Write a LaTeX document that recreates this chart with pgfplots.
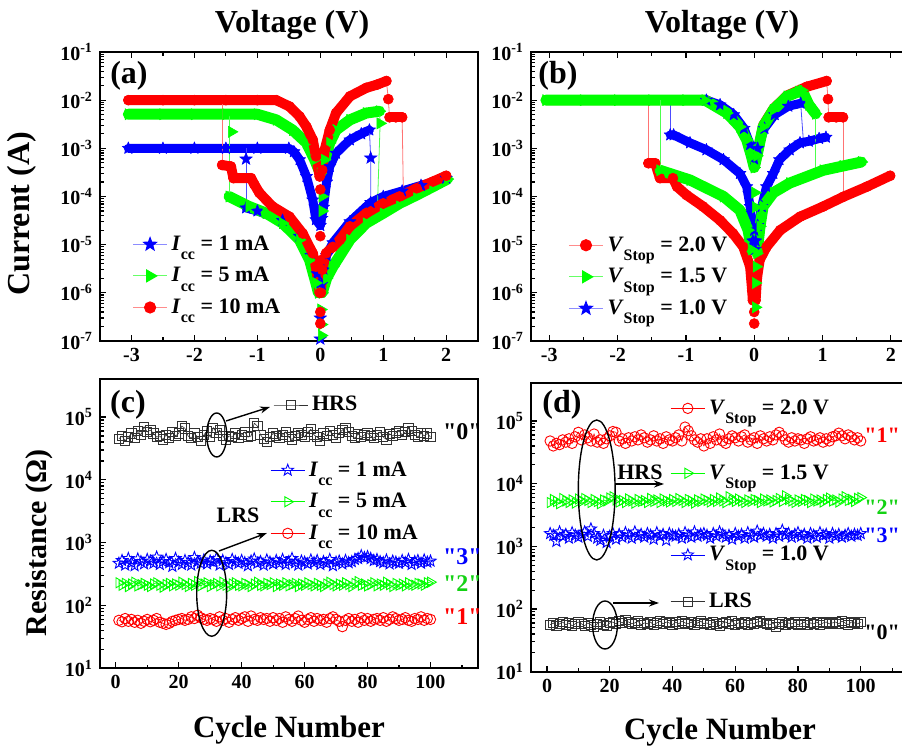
\documentclass[border=0pt]{standalone}
\usepackage{fontspec}
\setmainfont{Liberation Serif}
\usepackage{pgfplots}
\usepackage{pgfplotstable}
\pgfplotsset{compat=1.18}
\usetikzlibrary{arrows.meta}

\definecolor{cR}{RGB}{255,0,0}
\definecolor{cG}{RGB}{0,255,0}
\definecolor{cB}{RGB}{0,0,255}
\definecolor{cK}{RGB}{50,50,50}
\definecolor{qG}{RGB}{20,210,20}

\newcommand{\fs}[1]{\fontsize{#1}{#1}\selectfont\bfseries}
\newcommand{\sub}[1]{\raisebox{-0.95ex}{\fontsize{8}{8}\selectfont #1}}
\newcommand{\q}[1]{\textquotedbl#1\textquotedbl}

% five-pointed star marks, filled and open
\newcommand{\starpath}{%
  \pgfpathmoveto{\pgfpointpolar{90}{\pgfplotmarksize}}%
  \pgfpathlineto{\pgfpointpolar{126}{0.42\pgfplotmarksize}}%
  \pgfpathlineto{\pgfpointpolar{162}{\pgfplotmarksize}}%
  \pgfpathlineto{\pgfpointpolar{198}{0.42\pgfplotmarksize}}%
  \pgfpathlineto{\pgfpointpolar{234}{\pgfplotmarksize}}%
  \pgfpathlineto{\pgfpointpolar{270}{0.42\pgfplotmarksize}}%
  \pgfpathlineto{\pgfpointpolar{306}{\pgfplotmarksize}}%
  \pgfpathlineto{\pgfpointpolar{342}{0.42\pgfplotmarksize}}%
  \pgfpathlineto{\pgfpointpolar{18}{\pgfplotmarksize}}%
  \pgfpathlineto{\pgfpointpolar{54}{0.42\pgfplotmarksize}}%
  \pgfpathclose}
\pgfdeclareplotmark{fstar}{\starpath\pgfusepathqfillstroke}
\pgfdeclareplotmark{ostar}{\starpath\pgfusepathqstroke}

\pgfplotsset{
  base/.style={scale only axis, anchor=south west, axis line style={line width=0.9pt},
    tick style={line width=0.6pt, black}, major tick length=3pt, minor tick length=1.8pt,
    tick align=inside, ticklabel style={font=\fs{10}}, ytick pos=left, legend cell align=left},
  leg/.style={legend style={draw=none, fill=none, font=\fs{11}, anchor=west, at={#1},
    row sep=3pt, inner sep=0pt}},
  geomA/.style={at={(50pt,203.5pt)}, width=188.85pt, height=144.5pt,
    xmin=-3.5, xmax=2.5, ymin=1e-7, ymax=1e-1},
  geomB/.style={at={(265.5pt,203.5pt)}, width=197pt, height=144.5pt,
    xmin=-3.268, xmax=2.5, ymin=1e-7, ymax=1e-1},
  geomC/.style={at={(50pt,39.85pt)}, width=188.85pt, height=144.5pt,
    xmin=-5, xmax=115, ymin=10, ymax=4e5},
  geomD/.style={at={(265.5pt,38.15pt)}, width=188.4pt, height=144.2pt,
    xmin=-5.1, xmax=115, ymin=10, ymax=4e5},
  ivax/.style={xtick={-3,-2,-1,0,1,2}, xticklabels={-3,-2,-1,0,1,2},
    minor xtick={-2.5,-1.5,-0.5,0.5,1.5}, xtick pos=both,
    ytick={1e-7,1e-6,1e-5,1e-4,1e-3,1e-2,1e-1},
    yticklabels={10\textsuperscript{-7},10\textsuperscript{-6},10\textsuperscript{-5},10\textsuperscript{-4},10\textsuperscript{-3},10\textsuperscript{-2},10\textsuperscript{-1}}},
  rax/.style={xtick={0,20,40,60,80,100}, xticklabels={0,20,40,60,80,100},
    minor xtick={10,30,50,70,90,110}, xtick pos=left,
    ytick={1e1,1e2,1e3,1e4,1e5},
    yticklabels={10\textsuperscript{1},10\textsuperscript{2},10\textsuperscript{3},10\textsuperscript{4},10\textsuperscript{5}}},
  bR/.style={cR, line width=5pt, line cap=round, line join=round, mark=*, mark size=2.5pt,
    mark options={line width=0.3pt, fill=cR}, forget plot},
  bG/.style={cG, line width=5.5pt, line cap=round, line join=round, mark=triangle*, mark size=3.2pt,
    mark options={rotate=-90, line width=0.3pt, fill=cG}, forget plot},
  bB/.style={cB, line width=4.5pt, line cap=round, line join=round, mark=fstar, mark size=3.2pt,
    mark options={line width=0.3pt, fill=cB}, forget plot},
  tR/.style={cR!55, line width=0.4pt, mark=none, forget plot},
  tG/.style={cG!70, line width=0.4pt, mark=none, forget plot},
  tB/.style={cB!70, line width=0.4pt, mark=none, forget plot},
  pR/.style={cR, only marks, mark=*, mark size=2.5pt, mark options={fill=cR, line width=0.3pt}, forget plot},
  pG/.style={cG, only marks, mark=triangle*, mark size=3.2pt, mark options={rotate=-90, fill=cG, line width=0.3pt}, forget plot},
  pB/.style={cB, only marks, mark=fstar, mark size=3.2pt, mark options={fill=cB, line width=0.3pt}, forget plot},
  lR/.style={cR!45, line width=0.5pt, mark=*, mark size=2.8pt, mark options={draw=cR, fill=cR}},
  lG/.style={cG!60, line width=0.5pt, mark=triangle*, mark size=3.4pt, mark options={rotate=-90, draw=cG, fill=cG}},
  lB/.style={cB!45, line width=0.5pt, mark=fstar, mark size=3.4pt, mark options={draw=cB, fill=cB}},
  oR/.style={cR, line width=0.3pt, mark=o, mark size=2.6pt, mark options={line width=0.45pt}},
  oG/.style={cG, line width=0.3pt, mark=triangle, mark size=2.9pt, mark options={rotate=-90, line width=0.45pt}},
  oB/.style={cB, line width=0.3pt, mark=ostar, mark size=3pt, mark options={line width=0.45pt}},
  oK/.style={cK, line width=0.3pt, mark=square, mark size=2.3pt, mark options={line width=0.45pt}},
}

% cycling data, panel (c): HRS and LRS for three compliance currents
\pgfplotstableread{
n hrs s1 s5 s10
1 45e3 470 230 58
2 50e3 520 210 55
3 42e3 440 225 62
4 48e3 560 200 56
5 55e3 480 220 60
6 47e3 430 235 54
7 60e3 550 205 58
8 52e3 500 215 52
9 70e3 460 225 56
10 58e3 540 210 60
11 62e3 510 200 55
12 55e3 470 220 58
13 48e3 590 230 62
14 50e3 450 210 54
15 44e3 500 195 52
16 52e3 540 215 50
17 46e3 480 225 52
18 58e3 420 205 56
19 50e3 560 220 58
20 55e3 490 210 60
21 72e3 450 235 62
22 66e3 520 215 58
23 50e3 480 200 60
24 46e3 440 225 66
25 55e3 580 210 62
26 48e3 500 240 70
27 42e3 470 205 64
28 52e3 530 220 60
29 60e3 460 230 58
30 48e3 510 200 62
31 68e3 490 215 60
32 56e3 560 225 56
33 62e3 440 205 66
34 50e3 520 235 58
35 44e3 480 210 62
36 50e3 450 195 54
37 48e3 540 220 60
38 55e3 500 230 64
39 46e3 470 210 58
40 52e3 520 205 62
41 58e3 480 225 66
42 48e3 430 215 56
43 50e3 510 200 68
44 80e3 550 220 60
45 72e3 470 235 58
46 52e3 500 210 64
47 45e3 440 205 60
48 40e3 530 225 62
49 48e3 490 215 56
50 55e3 460 230 64
51 50e3 520 200 58
52 46e3 470 220 62
53 52e3 540 210 54
54 58e3 450 230 66
55 48e3 500 205 60
56 44e3 560 215 56
57 50e3 480 225 62
58 56e3 440 200 68
59 52e3 510 220 58
60 48e3 490 210 54
61 58e3 460 230 60
62 64e3 530 215 64
63 52e3 480 205 56
64 48e3 520 225 62
65 42e3 450 210 58
66 55e3 500 200 60
67 50e3 470 220 54
68 60e3 540 235 62
69 52e3 430 215 66
70 46e3 490 205 60
71 56e3 510 220 56
72 62e3 460 210 46
73 68e3 520 230 58
74 58e3 480 215 62
75 50e3 500 200 56
76 46e3 540 225 60
77 54e3 560 240 54
78 48e3 620 210 64
79 52e3 580 220 58
80 56e3 600 205 62
81 50e3 560 215 56
82 46e3 520 230 60
83 52e3 540 205 62
84 58e3 500 220 58
85 48e3 480 210 64
86 44e3 530 235 56
87 54e3 460 215 60
88 50e3 510 200 66
89 56e3 490 225 62
90 60e3 470 210 58
91 52e3 520 220 60
92 58e3 480 205 64
93 66e3 540 230 58
94 60e3 450 215 56
95 52e3 500 210 62
96 48e3 520 225 60
97 56e3 470 220 66
98 50e3 530 210 58
99 55e3 490 230 62
100 48e3 510 235 60
}\tabC

% cycling data, panel (d): HRS for three stop voltages and LRS
\pgfplotstableread{
n r20 r15 r10 lrs
1 48e3 5000 1600 56
2 40e3 5600 1500 60
3 44e3 5200 1200 54
4 42e3 4800 1700 58
5 50e3 5800 1450 62
6 46e3 5300 1550 56
7 52e3 5000 1350 60
8 44e3 5500 1650 54
9 56e3 4900 1500 58
10 66e3 5700 1400 62
11 50e3 5200 1550 58
12 60e3 5800 1700 54
13 54e3 5400 1450 60
14 48e3 5000 1900 56
15 62e3 5600 1600 52
16 46e3 5200 1350 58
17 50e3 4800 1250 62
18 44e3 5500 1500 56
19 52e3 5300 1150 54
20 58e3 5900 1450 60
21 68e3 6200 1600 62
22 66e3 5500 1300 58
23 48e3 5100 1550 64
24 52e3 5400 1400 60
25 44e3 5000 1650 66
26 54e3 5700 1500 62
27 48e3 5300 1350 58
28 56e3 4900 1700 60
29 50e3 5600 1450 64
30 60e3 5200 1550 56
31 54e3 5400 1400 60
32 46e3 5000 1600 58
33 50e3 5800 1500 62
34 58e3 5200 1300 56
35 48e3 5500 1650 60
36 52e3 5000 1450 64
37 44e3 5700 1550 58
38 56e3 5300 1250 62
39 50e3 5100 1600 60
40 48e3 5600 1500 56
41 54e3 5200 1450 62
42 60e3 5800 1550 58
43 48e3 5400 1350 64
44 80e3 5000 1650 60
45 70e3 5600 1500 58
46 58e3 5300 1400 62
47 50e3 4900 1700 56
48 46e3 5500 1450 60
49 52e3 5200 1550 64
50 40e3 5700 1600 58
51 52e3 5400 1500 60
52 44e3 5100 1350 56
53 56e3 5600 1600 62
54 50e3 5200 1450 58
55 62e3 5900 1700 54
56 48e3 5300 1550 60
57 44e3 5000 1400 62
58 52e3 6200 1500 58
59 58e3 5500 1300 64
60 54e3 5200 1600 56
61 48e3 5700 1450 60
62 56e3 5300 1550 58
63 60e3 5000 1350 62
64 46e3 5500 1650 56
65 50e3 5200 1500 60
66 54e3 5600 1400 58
67 44e3 5400 1750 62
68 58e3 5000 1500 64
69 52e3 5700 1600 60
70 48e3 5300 1450 58
71 56e3 5500 1550 56
72 50e3 5100 1350 60
73 60e3 5400 1600 52
74 66e3 5800 1450 58
75 58e3 5200 1800 62
76 50e3 6400 1500 56
77 46e3 5600 1600 60
78 54e3 5300 1400 58
79 48e3 5000 1550 62
80 52e3 5500 1650 56
81 50e3 5200 1450 58
82 44e3 5600 1550 62
83 52e3 5400 1350 56
84 56e3 5000 1600 60
85 48e3 5700 1500 58
86 50e3 5300 1400 62
87 54e3 5500 1650 56
88 46e3 5100 1500 60
89 52e3 5600 1550 62
90 48e3 5900 1350 58
91 56e3 5300 1600 60
92 58e3 5500 1450 62
93 64e3 5100 1550 58
94 58e3 5700 1400 64
95 52e3 6200 1500 60
96 60e3 5400 1600 56
97 56e3 5600 1450 62
98 50e3 5200 1550 60
99 54e3 5800 1500 58
100 48e3 6000 1600 62
}\tabD

\begin{document}
\begin{tikzpicture}
\useasboundingbox (0,0) rectangle (451pt,374pt);

% ---------------- (a) ----------------
\begin{axis}[ymode=log, base, geomA, ivax, leg={(0.085,0.225)}]
\addlegendimage{lB}\addlegendentry{\textit{I}\sub{cc} = 1 mA}
\addlegendimage{lG}\addlegendentry{\textit{I}\sub{cc} = 5 mA}
\addlegendimage{lR}\addlegendentry{\textit{I}\sub{cc} = 10 mA}
% Icc = 1 mA
\addplot[bB] coordinates {(-3.05,1.0e-3) (-2.5,1.0e-3) (-2,1.0e-3) (-1.5,1.0e-3) (-1,1.0e-3) (-0.5,1.0e-3) (-0.42,8.5e-4) (-0.33,5.8e-4) (-0.22,2.6e-4) (-0.12,8.5e-5) (-0.07,3.3e-5) (0,2.5e-5) (0.05,6e-5) (0.1,2e-4) (0.15,4.2e-4) (0.25,7.9e-4) (0.47,1.5e-3) (0.65,2e-3) (0.78,2.4e-3)};
\addplot[tB] coordinates {(0.78,2.4e-3) (0.8,6.3e-4) (0.8,8e-5)};
\addplot[bB] coordinates {(0.02,1.5e-6) (0.05,3e-6) (0.1,6e-6) (0.2,1.1e-5) (0.47,3e-5) (0.8,7.5e-5) (1.0,1.0e-4) (1.3,1.3e-4) (1.6,1.7e-4) (2.0,2.4e-4)};
\addplot[bB] coordinates {(-0.02,1.5e-6) (-0.05,2.5e-6) (-0.15,6e-6) (-0.33,1.5e-5) (-0.6,3.2e-5) (-1.0,5e-5) (-1.18,5.8e-5)};
\addplot[tB] coordinates {(-1.18,5.8e-5) (-1.18,1e-3)};
\addplot[pB] coordinates {(0.8,6.3e-4) (-1.18,6e-4) (0,1.1e-7) (0,3e-7) (0,6e-5) (0.02,3.5e-5)};
% Icc = 5 mA
\addplot[bG] coordinates {(-3.05,5.1e-3) (-2.5,5.1e-3) (-2,5.1e-3) (-1.5,5.1e-3) (-1.0,5.1e-3) (-0.7,3.9e-3) (-0.44,2.4e-3) (-0.22,1.3e-3) (-0.09,5.8e-4) (0,3e-4) (0.07,5.8e-4) (0.15,1.3e-3) (0.25,2.4e-3) (0.47,3.9e-3) (0.73,5.4e-3) (0.94,5.9e-3)};
\addplot[tG] coordinates {(0.94,5.9e-3) (0.95,3.3e-3) (0.9,3e-5)};
\addplot[bG] coordinates {(0.03,1e-6) (0.1,2e-6) (0.2,3.5e-6) (0.47,1.26e-5) (0.73,2.8e-5) (1.0,4.5e-5) (1.26,7.2e-5) (1.53,1.07e-4) (1.79,1.6e-4) (2.02,2.3e-4)};
\addplot[bG] coordinates {(-0.03,1e-6) (-0.07,1.6e-6) (-0.17,4.8e-6) (-0.33,1.26e-5) (-0.6,2.8e-5) (-0.86,4.5e-5) (-1.13,6.2e-5) (-1.45,1.0e-4)};
\addplot[tG] coordinates {(-1.45,1.0e-4) (-1.45,5.1e-3)};
\addplot[pG] coordinates {(0.95,3.3e-3) (-1.41,2.2e-3) (0.02,1.3e-7) (0.02,2.2e-7) (0.01,4.5e-7) (0.03,5e-5) (0.03,1e-4)};
% Icc = 10 mA
\addplot[bR] coordinates {(-3.05,1e-2) (-2.5,1e-2) (-2,1e-2) (-1.5,1e-2) (-1,1e-2) (-0.7,1e-2) (-0.49,7.4e-3) (-0.33,4.6e-3) (-0.22,2.8e-3) (-0.12,1.5e-3) (-0.07,6.8e-4) (-0.01,2.6e-4) (0.03,3.5e-4) (0.07,9.3e-4) (0.15,2.4e-3) (0.25,5.4e-3) (0.47,1.2e-2) (0.73,1.8e-2) (0.9,2.1e-2) (1.05,2.5e-2)};
\addplot[tR] coordinates {(1.05,2.5e-2) (1.08,1.05e-2) (1.1,4.4e-3)};
\addplot[bR] coordinates {(1.1,4.4e-3) (1.2,4.4e-3) (1.3,4.4e-3)};
\addplot[tR] coordinates {(1.3,4.4e-3) (1.32,1.0e-4)};
\addplot[bR] coordinates {(0.01,1e-6) (0.03,3e-6) (0.09,6.6e-6) (0.2,9e-6) (0.31,1.26e-5) (0.47,2.4e-5) (0.73,4.5e-5) (1.0,7.2e-5) (1.26,1.0e-4) (1.53,1.48e-4) (1.79,2.04e-4) (2.0,2.7e-4)};
\addplot[bR] coordinates {(-0.01,1e-6) (-0.07,3.5e-6) (-0.12,6.6e-6) (-0.28,1.7e-5) (-0.49,3.8e-5) (-0.76,6.2e-5) (-0.97,1.2e-4) (-1.05,1.8e-4) (-1.1,2.4e-4) (-1.38,2.4e-4) (-1.42,4.2e-4) (-1.56,4.5e-4)};
\addplot[tR] coordinates {(-1.56,4.5e-4) (-1.56,1e-2)};
\addplot[pR] coordinates {(1.08,1.05e-2) (0,1.4e-4) (0,1.5e-5) (0,4.7e-6) (0,4e-7) (0,2.3e-7)};
\end{axis}

% ---------------- (b) ----------------
\begin{axis}[ymode=log, base, geomB, ivax, leg={(0.094,0.222)}]
\addlegendimage{lR}\addlegendentry{\textit{V}\sub{Stop} = 2.0 V}
\addlegendimage{lG}\addlegendentry{\textit{V}\sub{Stop} = 1.5 V}
\addlegendimage{lB}\addlegendentry{\textit{V}\sub{Stop} = 1.0 V}
% Vstop = 2.0 V
\addplot[bR, mark=none] coordinates {(-3.05,1e-2) (-2.5,1e-2) (-2,1e-2) (-1.5,1e-2) (-1,1e-2) (-0.7,1e-2) (-0.4,5.6e-3) (-0.21,3e-3) (-0.11,1.6e-3) (-0.04,7e-4) (0,4e-4) (0.04,7e-4) (0.13,3e-3) (0.28,6.6e-3) (0.48,1.25e-2) (0.77,1.9e-2) (1.06,2.5e-2)};
\addplot[tR] coordinates {(1.06,2.5e-2) (1.08,1.05e-2) (1.09,4.4e-3)};
\addplot[bR] coordinates {(1.09,4.4e-3) (1.2,4.4e-3) (1.3,4.4e-3)};
\addplot[tR] coordinates {(1.3,4.4e-3) (1.3,9.8e-5)};
\addplot[bR] coordinates {(0.02,7e-7) (0.04,2e-6) (0.08,4.8e-6) (0.18,9e-6) (0.38,2e-5) (0.67,3.8e-5) (1.01,6.2e-5) (1.3,9.8e-5) (1.65,1.6e-4) (1.99,2.7e-4)};
\addplot[bR] coordinates {(-0.02,7e-7) (-0.03,1.1e-6) (-0.06,3.5e-6) (-0.16,9e-6) (-0.31,1.7e-5) (-0.5,3.2e-5) (-0.75,6.2e-5) (-0.99,1.07e-4) (-1.13,1.6e-4) (-1.19,2.4e-4) (-1.38,2.4e-4) (-1.45,4.9e-4) (-1.55,4.9e-4)};
\addplot[tR] coordinates {(-1.55,4.9e-4) (-1.55,1e-2)};
\addplot[pR] coordinates {(0.77,1.9e-2) (1.06,2.5e-2) (1.08,1.05e-2) (0,2.3e-7) (0,4e-7) (0.01,8e-7)};
% Vstop = 1.0 V
\addplot[bB, mark=none] coordinates {(-3.05,1e-2) (-2,1e-2) (-1,1e-2) (-0.7,1e-2)};
\addplot[bB] coordinates {(-0.7,1e-2) (-0.5,8e-3) (-0.3,5e-3) (-0.15,2.6e-3) (-0.06,1.2e-3) (0,6e-4) (0.05,1e-3) (0.15,2.6e-3) (0.3,5e-3) (0.5,7.5e-3) (0.68,8.6e-3)};
\addplot[tB] coordinates {(0.68,8.6e-3) (0.72,1.4e-3)};
\addplot[bB] coordinates {(0.02,1.2e-5) (0.05,2.5e-5) (0.11,6.2e-5) (0.18,1.6e-4) (0.28,3e-4) (0.37,5.8e-4) (0.52,9.3e-4) (0.67,1.3e-3) (0.8,1.4e-3) (0.95,1.6e-3) (1.05,1.7e-3)};
\addplot[bB] coordinates {(-0.02,1.2e-5) (-0.06,6.2e-5) (-0.11,1.6e-4) (-0.21,3e-4) (-0.45,5.8e-4) (-0.7,9.3e-4) (-0.94,1.3e-3) (-1.18,1.9e-3) (-1.23,1.9e-3)};
\addplot[tB] coordinates {(-1.23,1.9e-3) (-1.23,1e-2)};
\addplot[pB] coordinates {(0,2e-5) (0.01,8e-6)};
% Vstop = 1.5 V
\addplot[bG] coordinates {(-3.05,1e-2) (-2.5,1e-2) (-2,1e-2) (-1.5,1e-2) (-1,1e-2) (-0.72,1e-2) (-0.4,5.4e-3) (-0.21,2.8e-3) (-0.11,1.5e-3) (-0.04,6.8e-4) (0,4e-4) (0.04,7e-4) (0.13,2.8e-3) (0.28,6.3e-3) (0.48,1.2e-2) (0.65,1.5e-2) (0.7,1.6e-2) (0.8,8e-3) (0.9,5.2e-3)};
\addplot[tG] coordinates {(0.9,5.2e-3) (0.9,3.3e-4)};
\addplot[bG] coordinates {(0.04,6.6e-6) (0.085,2.4e-5) (0.13,6.2e-5) (0.28,1.2e-4) (0.52,1.9e-4) (1.01,3.5e-4) (1.3,4.3e-4) (1.57,5.2e-4)};
\addplot[bG] coordinates {(-0.04,7.9e-6) (-0.09,2e-5) (-0.21,5.2e-5) (-0.45,1e-4) (-0.94,2.2e-4) (-1.38,3.5e-4)};
\addplot[tG] coordinates {(-1.38,3.5e-4) (-1.38,1e-2)};
\addplot[pG] coordinates {(0.02,5e-7) (0.02,1.6e-6) (0.03,3.5e-6) (0.02,6e-5) (0.01,1.2e-4)};
\end{axis}

% ---------------- (c) ----------------
\begin{axis}[ymode=log, base, geomC, rax, leg={(0.45,0.576)}]
\addlegendimage{oB}\addlegendentry{\textit{I}\sub{cc} = 1 mA}
\addlegendimage{oG}\addlegendentry{\textit{I}\sub{cc} = 5 mA}
\addlegendimage{oR}\addlegendentry{\textit{I}\sub{cc} = 10 mA}
\addplot[oK, forget plot] table[x=n, y=hrs] {\tabC};
\addplot[oB, forget plot] table[x=n, y=s1] {\tabC};
\addplot[oG, forget plot] table[x=n, y=s5] {\tabC};
\addplot[oR, forget plot] table[x=n, y=s10] {\tabC};
\end{axis}
\begin{axis}[ymode=log, base, geomC, hide axis, leg={(0.458,0.911)}]
\addlegendimage{oK}\addlegendentry{HRS}
\end{axis}

% ---------------- (d) ----------------
\begin{axis}[ymode=log, base, geomD, rax, leg={(0.369,0.913)}]
\addlegendimage{oR}\addlegendentry{\textit{V}\sub{Stop} = 2.0 V}
\addplot[oR, forget plot] table[x=n, y=r20] {\tabD};
\addplot[oG, forget plot] table[x=n, y=r15] {\tabD};
\addplot[oB, forget plot] table[x=n, y=r10] {\tabD};
\addplot[oK, forget plot] table[x=n, y=lrs] {\tabD};
\end{axis}
\begin{axis}[ymode=log, base, geomD, hide axis, leg={(0.369,0.688)}]
\addlegendimage{oG}\addlegendentry{\textit{V}\sub{Stop} = 1.5 V}
\end{axis}
\begin{axis}[ymode=log, base, geomD, hide axis, leg={(0.369,0.405)}]
\addlegendimage{oB}\addlegendentry{\textit{V}\sub{Stop} = 1.0 V}
\end{axis}
\begin{axis}[ymode=log, base, geomD, hide axis, leg={(0.369,0.243)}]
\addlegendimage{oK}\addlegendentry{LRS}
\end{axis}

% ---------------- labels and annotations (pixel frame) ----------------
\begin{scope}[x=0.5pt, y=-0.5pt, shift={(0pt,374pt)}]
\node[font=\fs{16}] at (292,25) {Voltage (V)};
\node[font=\fs{16}] at (722,25) {Voltage (V)};
\node[font=\fs{16}, rotate=90] at (22,214) {Current (A)};
\node[font=\fs{15}, rotate=90] at (39,543) {Resistance (Ω)};
\node[font=\fs{15.5}] at (289,730) {Cycle Number};
\node[font=\fs{15.5}] at (720,732) {Cycle Number};
\node[font=\fs{16}] at (129,76) {(a)};
\node[font=\fs{16}] at (558,76) {(b)};
\node[font=\fs{16}] at (128,405) {(c)};
\node[font=\fs{16}] at (562,405) {(d)};
% (c)
\draw[line width=0.7pt] (216.7,435) ellipse [x radius=5pt, y radius=11pt];
\draw[line width=0.7pt, -{Stealth[length=5pt, width=3.5pt]}] (226,421) -- (270,407);
\node[font=\fs{11}] at (238,515) {LRS};
\draw[line width=0.7pt] (211.7,593.3) ellipse [x radius=7.5pt, y radius=21.5pt];
\draw[line width=0.7pt, -{Stealth[length=5pt, width=3.5pt]}] (219,551) -- (267,533);
\node[font=\fs{12}, anchor=west, text=black] at (436,432) {\q{0}};
\node[font=\fs{12}, anchor=west, text=cB] at (436,557) {\q{3}};
\node[font=\fs{12}, anchor=west, text=qG] at (436,584) {\q{2}};
\node[font=\fs{12}, anchor=west, text=cR] at (436,617) {\q{1}};
% (d)
\draw[line width=0.7pt] (596.7,490) ellipse [x radius=9.2pt, y radius=35pt];
\node[font=\fs{11}] at (640,472) {HRS};
\draw[line width=0.7pt, -{Stealth[length=5pt, width=3.5pt]}] (615,484) -- (664,484);
\draw[line width=0.7pt] (605,625) ellipse [x radius=6.2pt, y radius=12pt];
\draw[line width=0.7pt, -{Stealth[length=5pt, width=3.5pt]}] (613,603) -- (659,603);
\node[font=\fs{11}, anchor=west, text=cR, inner sep=1pt] at (862,435) {\q{1}};
\node[font=\fs{11}, anchor=west, text=qG, inner sep=1pt] at (862,507) {\q{2}};
\node[font=\fs{11}, anchor=west, text=cB, inner sep=1pt] at (862,535) {\q{3}};
\node[font=\fs{11}, anchor=west, text=black, inner sep=1pt] at (862,632) {\q{0}};
\end{scope}
\end{tikzpicture}
\end{document}
